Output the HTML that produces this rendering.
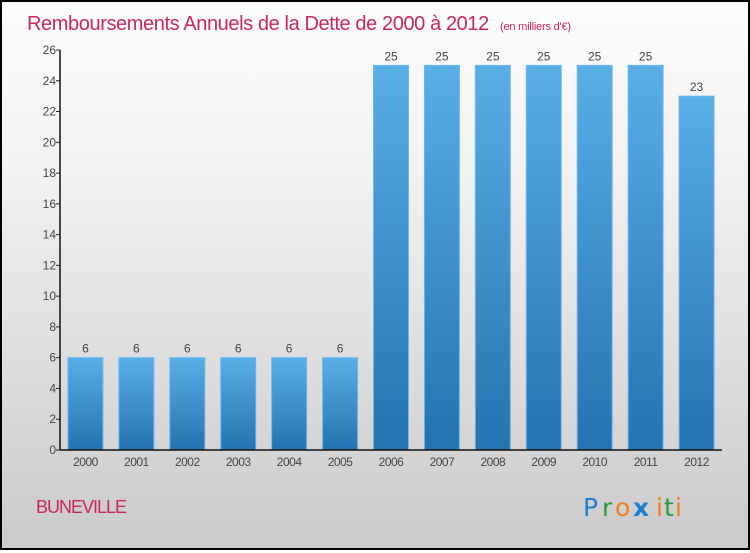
<!DOCTYPE html>
<html><head><meta charset="utf-8"><style>
html,body{margin:0;padding:0}
body{width:750px;height:550px;overflow:hidden;font-family:"Liberation Sans",sans-serif}
#frame{position:absolute;left:0;top:0;width:746px;height:546px;border:2px solid #000;background:linear-gradient(#fcfcfc,#f2f2f2 30%,#cacaca)}
</style></head><body>
<div id="frame">
<svg width="746" height="546" viewBox="2 2 746 546" id="svg">
<defs><linearGradient id="bg" x1="0" y1="0" x2="0" y2="1"><stop offset="0" stop-color="#5aaee6"/><stop offset="1" stop-color="#2473b0"/></linearGradient></defs>
<text x="27" y="30" font-size="20" fill="#c8285a" letter-spacing="-0.4">Remboursements Annuels de la Dette de 2000 à 2012 <tspan font-size="11" dx="6" letter-spacing="-0.2">(en milliers d'€)</tspan></text>
<g id="plot"></g>
<text x="36" y="513" font-size="18" fill="#c8285a" letter-spacing="-1">BUNEVILLE</text>
<g font-size="25" font-family="'DejaVu Sans',sans-serif">
<text x="583" y="516" fill="#1f7fd0">P</text><text x="602" y="516" fill="#2a9a3a">r</text><text x="615" y="516" fill="#f07c1a">o</text><text x="633" y="516" fill="#1f7fd0" font-weight="bold">x</text><text x="656" y="516" fill="#f07c1a">i</text><text x="664" y="516" fill="#2a9a3a">t</text><text x="675" y="516" fill="#f07c1a">i</text>
</g>
</svg></div>
<script>
const categories=["2000","2001","2002","2003","2004","2005","2006","2007","2008","2009","2010","2011","2012"];
const values=[6,6,6,6,6,6,25,25,25,25,25,25,23];
const yTicks=[0,2,4,6,8,10,12,14,16,18,20,22,24,26];
const NS="http://www.w3.org/2000/svg";
const g=document.getElementById('plot');
const x0=60,x1=722,yb=450,yt=50,ymax=26;
const band=(x1-x0)/categories.length;
const ys=v=>yb-(v/ymax)*(yb-yt);
const xc=i=>x0+(i+0.5)*band;
function mk(t,a){const e=document.createElementNS(NS,t);for(const k in a)e.setAttribute(k,a[k]);g.appendChild(e);return e;}
yTicks.forEach(v=>{
 const l=mk('line',{x1:x0-4,x2:x0,y1:ys(v),y2:ys(v),stroke:'#222'});
 
 
 const t=mk('text',{x:x0-4,y:ys(v)+4,'font-size':12,fill:'#444','text-anchor':'end'});
 t.textContent=v;
 
 
});
values.forEach((v,i)=>{
 const w=35;
 const r=mk('rect',{x:xc(i)-w/2,y:ys(v),width:w,height:yb-ys(v),fill:'url(#bg)',stroke:'#6bb8ee','stroke-width':1});
 
 
 const t=mk('text',{x:xc(i),y:ys(v)-5,'font-size':12,fill:'#444','text-anchor':'middle'});
 t.textContent=v;
 
 
 const c=mk('text',{x:xc(i),y:yb+16,'font-size':12,fill:'#444','text-anchor':'middle','letter-spacing':'-0.5'});
 c.textContent=categories[i];
 
 
});
const ya=mk('line',{x1:x0,x2:x0,y1:yt,y2:yb,stroke:'#111','stroke-width':1.5});


const xa=mk('line',{x1:x0,x2:x1,y1:yb,y2:yb,stroke:'#111','stroke-width':1.5});


</script>
</body></html>
